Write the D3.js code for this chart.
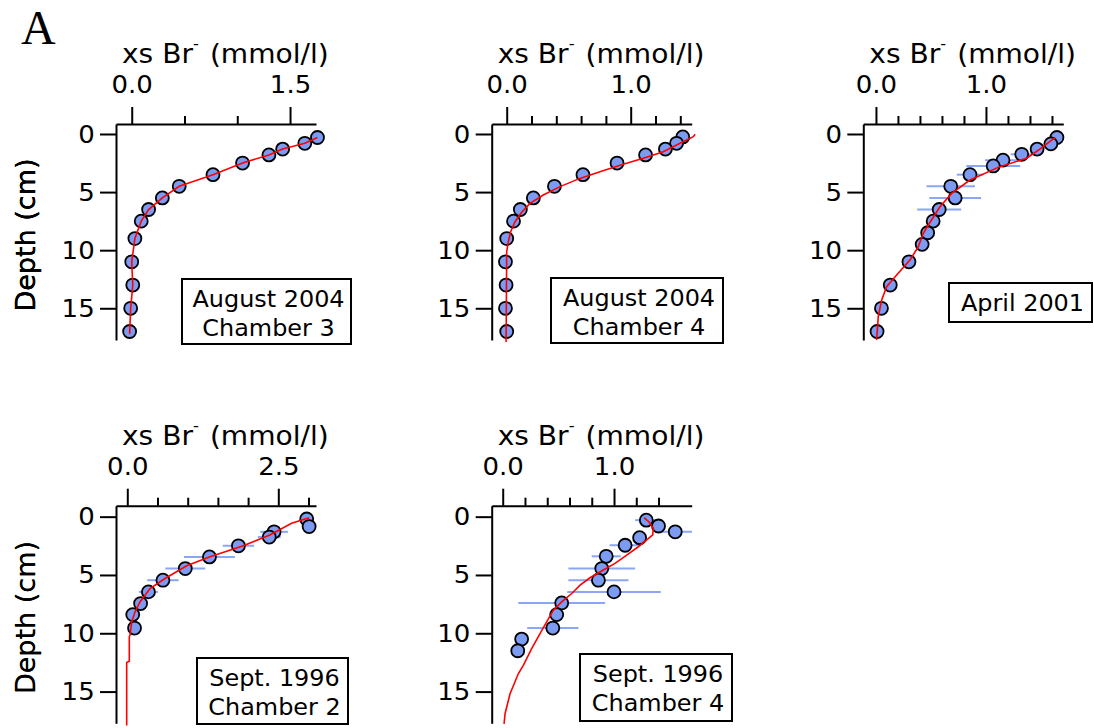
<!DOCTYPE html>
<html>
<head>
<meta charset="utf-8">
<script src="https://cdn.jsdelivr.net/npm/d3@7/dist/d3.min.js"></script>
<style>
  body { margin: 0; background: #fff; }
  svg text { font-family: "DejaVu Sans", sans-serif; fill: #000; }
</style>
</head>
<body>
<svg id="fig" width="1094" height="728"></svg>
<script>
// ---- data: depth (cm) vs excess bromide (mmol/l) ----

// August 2004, chamber 3
const depthAugC3 = [0.3, 0.8, 1.3, 1.8, 2.5, 3.5, 4.5, 5.5, 6.5, 7.5, 9, 11, 13, 15, 17];
const brAugC3    = [1.76, 1.64, 1.43, 1.30, 1.05, 0.77, 0.45, 0.29, 0.16, 0.09, 0.03, 0.0, 0.01, -0.01, -0.02];
const errAugC3   = [0, 0, 0, 0, 0, 0, 0, 0, 0, 0, 0, 0, 0, 0, 0];
const modelDepthAugC3 = [0.3, 0.8, 1.3, 1.8, 2.5, 3.5, 4.5, 5.5, 6.5, 7.5, 9, 11, 13, 15, 17.2];
const modelBrAugC3    = [1.76, 1.64, 1.43, 1.30, 1.05, 0.77, 0.45, 0.29, 0.16, 0.09, 0.03, 0.0, 0.01, -0.01, -0.02];

// August 2004, chamber 4
const depthAugC4 = [0.25, 0.8, 1.3, 1.8, 2.5, 3.5, 4.5, 5.5, 6.5, 7.5, 9, 11, 13, 15, 17];
const brAugC4    = [1.42, 1.37, 1.28, 1.12, 0.89, 0.615, 0.385, 0.215, 0.11, 0.055, 0.0, -0.01, -0.005, -0.01, 0.0];
const errAugC4   = [0, 0, 0, 0, 0, 0, 0, 0, 0, 0, 0, 0, 0, 0, 0];
const modelDepthAugC4 = [0.03, 0.23, 0.8, 1.52, 2.09, 2.61, 3.24, 3.82, 4.53, 5.25, 5.97, 6.74, 7.55, 8.41, 9.27, 10.13, 17.9];
const modelBrAugC4    = [1.52, 1.505, 1.398, 1.263, 1.102, 0.94, 0.752, 0.591, 0.43, 0.295, 0.188, 0.121, 0.067, 0.032, 0.013, 0.0, -0.005];

// April 2001
const depthApr01 = [0.3, 0.85, 1.3, 1.75, 2.25, 2.75, 3.5, 4.5, 5.5, 6.5, 7.5, 8.5, 9.5, 11, 13, 15, 17];
const brApr01    = [1.645, 1.59, 1.465, 1.325, 1.155, 1.066, 0.855, 0.68, 0.72, 0.575, 0.52, 0.47, 0.42, 0.30, 0.13, 0.05, 0.01];
const errApr01   = [0, 0.04, 0.06, 0.1, 0.165, 0.245, 0.12, 0.22, 0.235, 0.2, 0, 0, 0, 0, 0, 0, 0];
const modelDepthApr01 = [0.3, 0.52, 1.3, 2.09, 2.81, 3.96, 5.11, 6.26, 7.83, 8.55, 9.7, 10.85, 12.14, 13.14, 14.29, 15.72, 17.73];
const modelBrApr01    = [1.63, 1.597, 1.49, 1.37, 1.127, 0.855, 0.688, 0.582, 0.476, 0.43, 0.385, 0.309, 0.188, 0.097, 0.052, 0.021, 0.006];

// Sept. 1996, chamber 2
const depthSepC2 = [0.2, 0.85, 1.3, 1.75, 2.5, 3.45, 4.45, 5.45, 6.45, 7.45, 8.4, 9.55];
const brSepC2    = [2.97, 3.01, 2.43, 2.35, 1.84, 1.36, 0.96, 0.59, 0.35, 0.22, 0.09, 0.12];
const errSepC2   = [0, 0, 0.23, 0.19, 0.26, 0.42, 0.33, 0.26, 0.16, 0.08, 0, 0];
const modelDepthSepC2 = [0.09, 0.57, 1.57, 2.49, 3.44, 4.21, 5.3, 6.16, 7.31, 8.17, 9.03, 10.17, 10.3, 12.4, 12.5, 17.9];
const modelBrSepC2    = [3.01, 2.72, 2.36, 1.92, 1.37, 0.983, 0.624, 0.376, 0.21, 0.127, 0.073, 0.045, 0.033, 0.033, -0.01, -0.01];

// Sept. 1996, chamber 4
const depthSepC4 = [0.3, 0.8, 1.3, 1.8, 2.45, 3.4, 4.45, 5.45, 6.45, 7.4, 8.4, 9.55, 10.5, 11.5];
const brSepC4    = [1.29, 1.40, 1.55, 1.23, 1.10, 0.93, 0.89, 0.86, 1.0, 0.53, 0.485, 0.45, 0.17, 0.135];
const errSepC4   = [0.1, 0, 0.15, 0, 0.14, 0.13, 0.30, 0.27, 0.42, 0.39, 0, 0.23, 0, 0];
const modelDepthSepC4 = [0.08, 0.48, 1.0, 1.57, 2.0, 2.58, 3.29, 4.01, 4.58, 5.24, 5.87, 6.59, 7.31, 8.02, 9.03, 10.03, 11.32, 12.75, 13.47, 15.19, 16.9, 17.77];
const modelBrSepC4    = [1.27, 1.317, 1.353, 1.348, 1.294, 1.218, 1.114, 1.009, 0.904, 0.784, 0.695, 0.62, 0.53, 0.455, 0.395, 0.335, 0.26, 0.185, 0.14, 0.066, 0.021, 0.012];

// axis ticks
const depthTicks = [0, 5, 10, 15];
const majorTicksC3 = [0, 1.5],  minorTicksC3 = [0.5, 1.0];
const majorTicks1 = [0, 1.0],   minorTicks1 = [0.2, 0.4, 0.6, 0.8, 1.2, 1.4];
const minorTicksApr = [0.2, 0.4, 0.6, 0.8, 1.2, 1.4, 1.6];
const majorTicksC2 = [0, 2.5],  minorTicksC2 = [0.5, 1.0, 1.5, 2.0, 3.0];

// ---- layout ----
const panels = [
  { left: 116, top: 124, bottom: 340, xDomain: [-0.149, 1.746], yDomain: [-0.86, 17.73],
    depth: depthAugC3, br: brAugC3, err: errAugC3, mDepth: modelDepthAugC3, mBr: modelBrAugC3,
    major: majorTicksC3, minor: minorTicksC3,
    label: ["August 2004", "Chamber 3"], box: [182, 279, 169, 65] },
  { left: 491.7, top: 124, bottom: 340, xDomain: [-0.121, 1.492], yDomain: [-0.86, 17.73],
    depth: depthAugC4, br: brAugC4, err: errAugC4, mDepth: modelDepthAugC4, mBr: modelBrAugC4,
    major: majorTicks1, minor: minorTicks1,
    label: ["August 2004", "Chamber 4"], box: [551, 278, 172, 65] },
  { left: 863.3, top: 124, bottom: 340, xDomain: [-0.115, 1.703], yDomain: [-0.86, 17.73],
    depth: depthApr01, br: brApr01, err: errApr01, mDepth: modelDepthApr01, mBr: modelBrApr01,
    major: majorTicks1, minor: minorTicksApr,
    label: ["April 2001"], box: [949, 283, 143, 39] },
  { left: 116, top: 505.7, bottom: 723.3, xDomain: [-0.187, 3.124], yDomain: [-0.94, 17.72],
    depth: depthSepC2, br: brSepC2, err: errSepC2, mDepth: modelDepthSepC2, mBr: modelBrSepC2,
    major: majorTicksC2, minor: minorTicksC2,
    label: ["Sept. 1996", "Chamber 2"], box: [197, 658, 151, 66] },
  { left: 491.7, top: 505.7, bottom: 723.3, xDomain: [-0.099, 1.698], yDomain: [-0.94, 17.72],
    depth: depthSepC4, br: brSepC4, err: errSepC4, mDepth: modelDepthSepC4, mBr: modelBrSepC4,
    major: majorTicks1, minor: minorTicks1,
    label: ["Sept. 1996", "Chamber 4"], box: [580, 654, 152, 67] }
];

const plotWidth = 200;
const stretch = 1.04;      // the original font runs a little wider than DejaVu
const titleStretch = 1.08;

const svg = d3.select("#fig");

svg.append("text")
  .attr("x", 21).attr("y", 44)
  .style("font-family", "'Liberation Serif', 'Times New Roman', serif")
  .style("font-size", "48px")
  .text("A");

function drawPanel(p) {
  const x = d3.scaleLinear().domain(p.xDomain).range([p.left, p.left + plotWidth]);
  const y = d3.scaleLinear().domain(p.yDomain).range([p.top, p.bottom]);
  const g = svg.append("g");

  // top axis: labelled major ticks plus short minor ticks
  const topAxis = g.append("g")
    .attr("transform", "translate(0," + p.top + ")")
    .call(d3.axisTop(x).tickValues(p.major).tickFormat(d3.format(".1f"))
      .tickSize(17).tickSizeOuter(0).tickPadding(14));
  topAxis.selectAll("text")
    .style("font-size", "25px")
    .attr("transform", "scale(" + stretch + ",1)");
  g.append("g")
    .attr("transform", "translate(0," + p.top + ")")
    .call(d3.axisTop(x).tickValues(p.minor).tickFormat("").tickSize(8).tickSizeOuter(0))
    .call(a => a.select(".domain").remove());

  // left axis
  const leftAxis = g.append("g")
    .attr("transform", "translate(" + p.left + ",0)")
    .call(d3.axisLeft(y).tickValues(depthTicks).tickSize(16).tickSizeOuter(0).tickPadding(4.5));
  leftAxis.selectAll("text")
    .style("font-size", "25px")
    .attr("transform", "scale(" + stretch + ",1)");

  g.selectAll(".domain").attr("stroke", "#000").attr("stroke-width", 2);
  g.selectAll(".tick line").attr("stroke", "#000").attr("stroke-width", 2);

  // axis titles
  const title = g.append("text")
    .attr("transform", "translate(" + (p.left + 6) + "," + (p.top - 61) + ") scale(" + titleStretch + ",1)")
    .style("font-size", "26px");
  title.append("tspan").text("xs Br");
  title.append("tspan").attr("dy", -14).style("font-size", "15px").text("-");
  title.append("tspan").attr("dy", 14).attr("dx", 2).text(" (mmol/l)");

  g.append("text")
    .attr("transform", "translate(35," + ((p.top + p.bottom) / 2 + 3) + ") rotate(-90) scale(" + stretch + ",1)")
    .attr("text-anchor", "middle")
    .style("font-size", "26px")
    .text("Depth (cm)");

  const pts = d3.zip(p.br, p.depth, p.err);

  // horizontal error bars
  g.append("g").selectAll("line")
    .data(pts.filter(d => d[2] > 0))
    .join("line")
    .attr("x1", d => x(d[0] - d[2]))
    .attr("x2", d => x(d[0] + d[2]))
    .attr("y1", d => y(d[1]))
    .attr("y2", d => y(d[1]))
    .attr("stroke", "#8aa6f4")
    .attr("stroke-width", 2);

  // measured profile
  g.append("g").selectAll("circle")
    .data(pts)
    .join("circle")
    .attr("cx", d => x(d[0]))
    .attr("cy", d => y(d[1]))
    .attr("r", 6.5)
    .attr("fill", "#7b9cf2")
    .attr("stroke", "#000")
    .attr("stroke-width", 1.8);

  // model fit
  const line = d3.line().x(d => x(d[0])).y(d => y(d[1]));
  g.append("path")
    .attr("d", line(d3.zip(p.mBr, p.mDepth)))
    .attr("fill", "none")
    .attr("stroke", "#ff0000")
    .attr("stroke-width", 1.6);

  // label box
  const [bx, by, bw, bh] = p.box;
  g.append("rect")
    .attr("x", bx).attr("y", by).attr("width", bw).attr("height", bh)
    .attr("fill", "#fff").attr("stroke", "#000").attr("stroke-width", 2);
  p.label.forEach((s, i) => {
    g.append("text")
      .attr("transform", "translate(" + (bx + bw / 2 + 2) + "," + (by + 28 + i * 28.5) + ") scale(" + stretch + ",1)")
      .attr("text-anchor", "middle")
      .style("font-size", "23px")
      .text(s);
  });
}

panels.forEach(drawPanel);
</script>
</body>
</html>
